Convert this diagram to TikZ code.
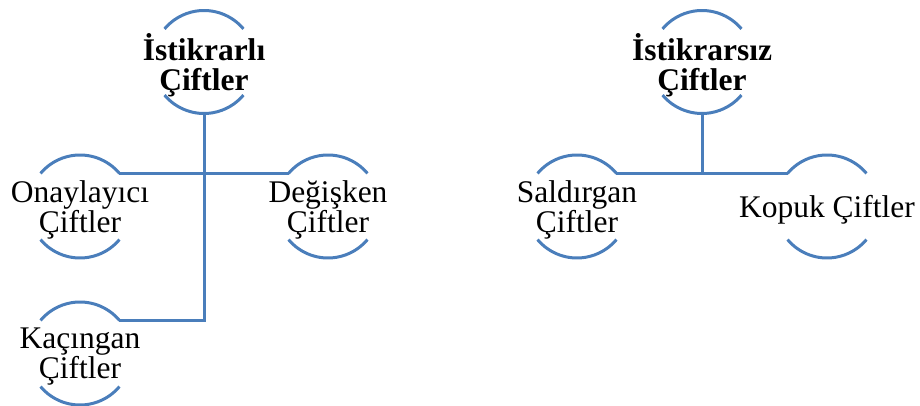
\documentclass[tikz,border=0pt]{standalone}
\usepackage{fontspec}
\setmainfont{Liberation Serif}
\usetikzlibrary{calc}
\definecolor{ringblue}{RGB}{74,126,187}
\begin{document}
\begin{tikzpicture}[x=1pt,y=1pt,
  ring/.style={circle, minimum size=103pt, inner sep=0pt, outer sep=0pt, draw=none},
  lbl/.style={align=center, font=\fontsize{31.5}{30}\selectfont, inner sep=0pt, yshift=-3pt},
  blbl/.style={align=center, font=\fontsize{31.5}{30}\selectfont\bfseries, inner sep=0pt, yshift=-3pt},
  arcs/.style={draw=ringblue, line width=3pt},
  conn/.style={draw=ringblue, line width=3pt}]
\useasboundingbox (0,0) rectangle (920,406);
% rings
\node[ring] (ist) at (204,344) {};
\node[ring] (isz) at (702,344) {};
\node[ring] (ona) at (80,199.5) {};
\node[ring] (deg) at (328,199.5) {};
\node[ring] (kac) at (80,52.5) {};
\node[ring] (sal) at (577,199.5) {};
\node[ring] (kop) at (827,199.5) {};
\foreach \n in {ist,isz,ona,deg,kac,sal,kop} {
  \draw[arcs] (\n.40) arc[start angle=40,end angle=140,radius=51.5pt];
  \draw[arcs] (\n.220) arc[start angle=220,end angle=320,radius=51.5pt];
}
% labels
\node[blbl] (istt) at (ist) {İstikrarlı\\Çiftler};
\node[blbl] (iszt) at (isz) {İstikrarsız\\Çiftler};
\node[lbl] (onat) at (ona) {Onaylayıcı\\Çiftler};
\node[lbl] (degt) at (deg) {Değişken\\Çiftler};
\node[lbl] (kact) at (kac) {Kaçıngan\\Çiftler};
\node[lbl] (salt) at (sal) {Saldırgan\\Çiftler};
\node[lbl] (kopt) at (kop) {Kopuk Çiftler};
% connectors
\draw[conn] (ona.40) -- (deg.140);
\draw[conn] (ist.270) |- (kac.40);
\draw[conn] (sal.40) -- (kop.140);
\coordinate (j2) at (isz.270 |- sal.40);
\draw[conn] (isz.270) -- (j2);
\end{tikzpicture}
\end{document}
